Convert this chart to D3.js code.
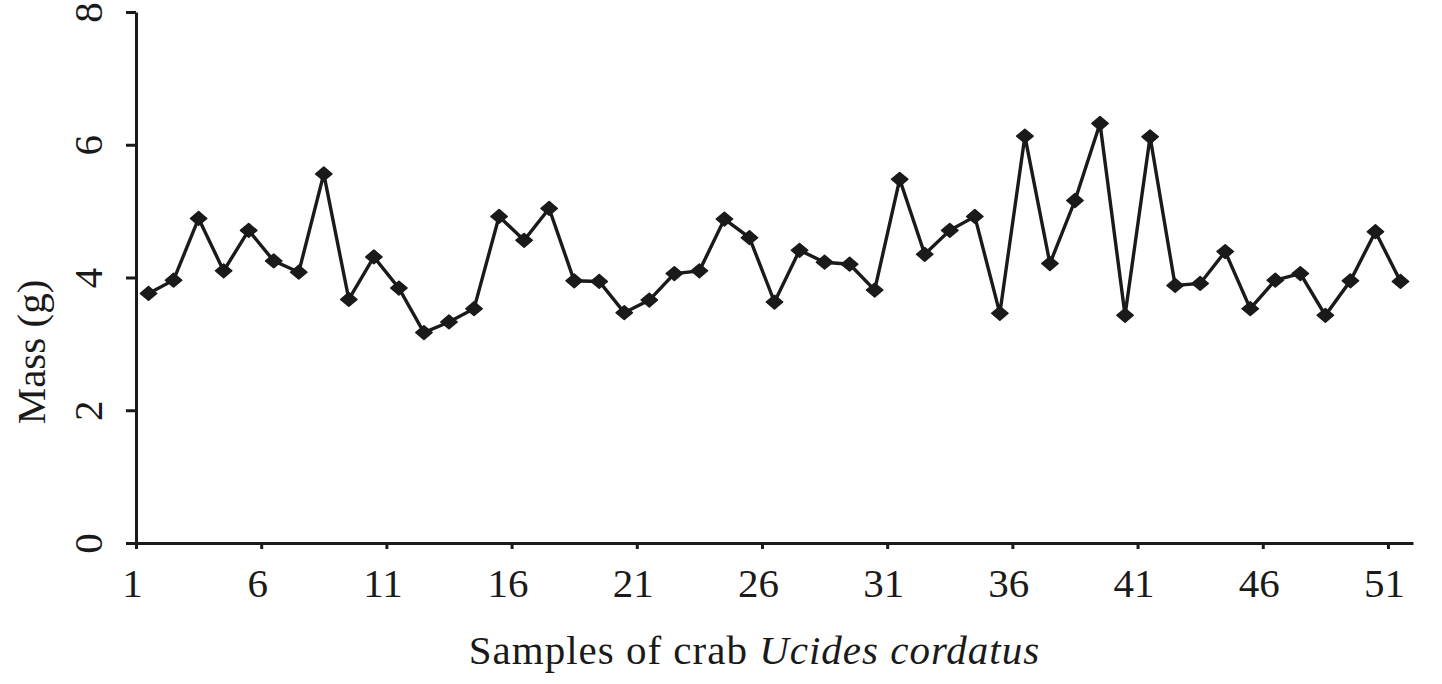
<!DOCTYPE html>
<html>
<head>
<meta charset="utf-8">
<script src="https://cdn.jsdelivr.net/npm/d3@7"></script>
<style>
    body { margin: 0; background: #fff; }
    #mass-chart text { font-family: "Liberation Serif", "Times New Roman", serif; fill: #1a1a1a; }
</style>
</head>
<body>
<div id="mass-chart"></div>
<script>
// mass (g) of each crab sample
var massValues = [3.76, 3.96, 4.89, 4.10, 4.71, 4.25, 4.08, 5.56, 3.67, 4.31,
                  3.84, 3.17, 3.33, 3.53, 4.92, 4.56, 5.04, 3.95, 3.94, 3.47,
                  3.66, 4.06, 4.10, 4.88, 4.60, 3.63, 4.41, 4.23, 4.20, 3.81,
                  5.48, 4.35, 4.71, 4.92, 3.46, 6.13, 4.21, 5.16, 6.32, 3.43,
                  6.12, 3.88, 3.91, 4.39, 3.53, 3.96, 4.06, 3.43, 3.95, 4.69,
                  3.94];
var xTickValues = [1, 6, 11, 16, 21, 26, 31, 36, 41, 46, 51];
var yTickValues = [0, 2, 4, 6, 8];

/**
 * Line chart of the mass of each sample
 */
function MassChart(values)
{
    var self = this;
    self.values = values;
    self.init();
}

MassChart.prototype.init = function()
{
    var self = this;
    self.svgWidth = 1442;
    self.svgHeight = 684;
    self.plot = {left: 136, right: 1413, top: 12, bottom: 543};

    self.svg = d3.select("#mass-chart").append("svg")
        .attr("width", self.svgWidth)
        .attr("height", self.svgHeight);
};

MassChart.prototype.update = function()
{
    var self = this;
    var ink = "#1a1a1a";

    // category axis: one band per sample, ticks on the left edge of a band
    var x = d3.scaleLinear().domain([1, self.values.length + 1]).range([self.plot.left, self.plot.right]);
    var y = d3.scaleLinear().domain([0, 8]).range([self.plot.bottom, self.plot.top]);

    var xAxis = d3.axisBottom(x).tickValues(xTickValues).tickSize(6).tickSizeOuter(0);
    var yAxis = d3.axisLeft(y).tickValues(yTickValues).tickSize(10).tickSizeOuter(0);

    var gx = self.svg.append("g")
        .attr("class", "x axis")
        .attr("transform", "translate(0," + self.plot.bottom + ")")
        .call(xAxis);
    gx.select(".domain").attr("stroke", ink).attr("stroke-width", 3);
    gx.selectAll(".tick line").attr("stroke", ink).attr("stroke-width", 3);
    gx.selectAll(".tick text")
        .attr("y", 54)
        .attr("dy", 0)
        .attr("x", -4)
        .style("font-size", "41px");

    var gy = self.svg.append("g")
        .attr("class", "y axis")
        .attr("transform", "translate(" + self.plot.left + ",0)")
        .call(yAxis);
    gy.select(".domain").attr("stroke", ink).attr("stroke-width", 3);
    gy.selectAll(".tick line").attr("stroke", ink).attr("stroke-width", 3);
    gy.selectAll(".tick text")
        .attr("x", 0)
        .attr("dy", 0)
        .attr("text-anchor", "middle")
        .attr("transform", "translate(-34,0) rotate(-90)")
        .style("font-size", "41px");

    var valueline = d3.line()
        .x(function(d, i) { return x(i + 1.5); })
        .y(function(d) { return y(d); });

    self.svg.append("path")
        .attr("class", "line")
        .attr("d", valueline(self.values))
        .style("fill", "none")
        .style("stroke", ink)
        .style("stroke-width", 3.4);

    // diamond markers, a little wider than tall as in the figure
    var marker = d3.symbol().type(d3.symbolSquare).size(105);
    self.svg.selectAll(".marker")
        .data(self.values)
        .enter().append("path")
        .attr("class", "marker")
        .attr("d", marker)
        .attr("transform", function(d, i) {
            return "translate(" + x(i + 1.5) + "," + y(d) + ") scale(1.12,0.95) rotate(45)";
        })
        .style("fill", ink)
        .style("stroke", ink)
        .style("stroke-width", 1.5)
        .style("stroke-linejoin", "round");

    // axis titles
    self.svg.append("text")
        .attr("transform", "translate(45,352) rotate(-90)")
        .attr("text-anchor", "middle")
        .style("font-size", "41px")
        .text("Mass (g)");

    var title = self.svg.append("text")
        .attr("x", (self.plot.left + self.plot.right) / 2 - 20)
        .attr("y", 664)
        .attr("text-anchor", "middle")
        .style("font-size", "41px")
        .style("letter-spacing", "1px");
    title.append("tspan").text("Samples of crab ");
    title.append("tspan").style("font-style", "italic").text("Ucides cordatus");
};

var chart = new MassChart(massValues);
chart.update();
</script>
</body>
</html>
